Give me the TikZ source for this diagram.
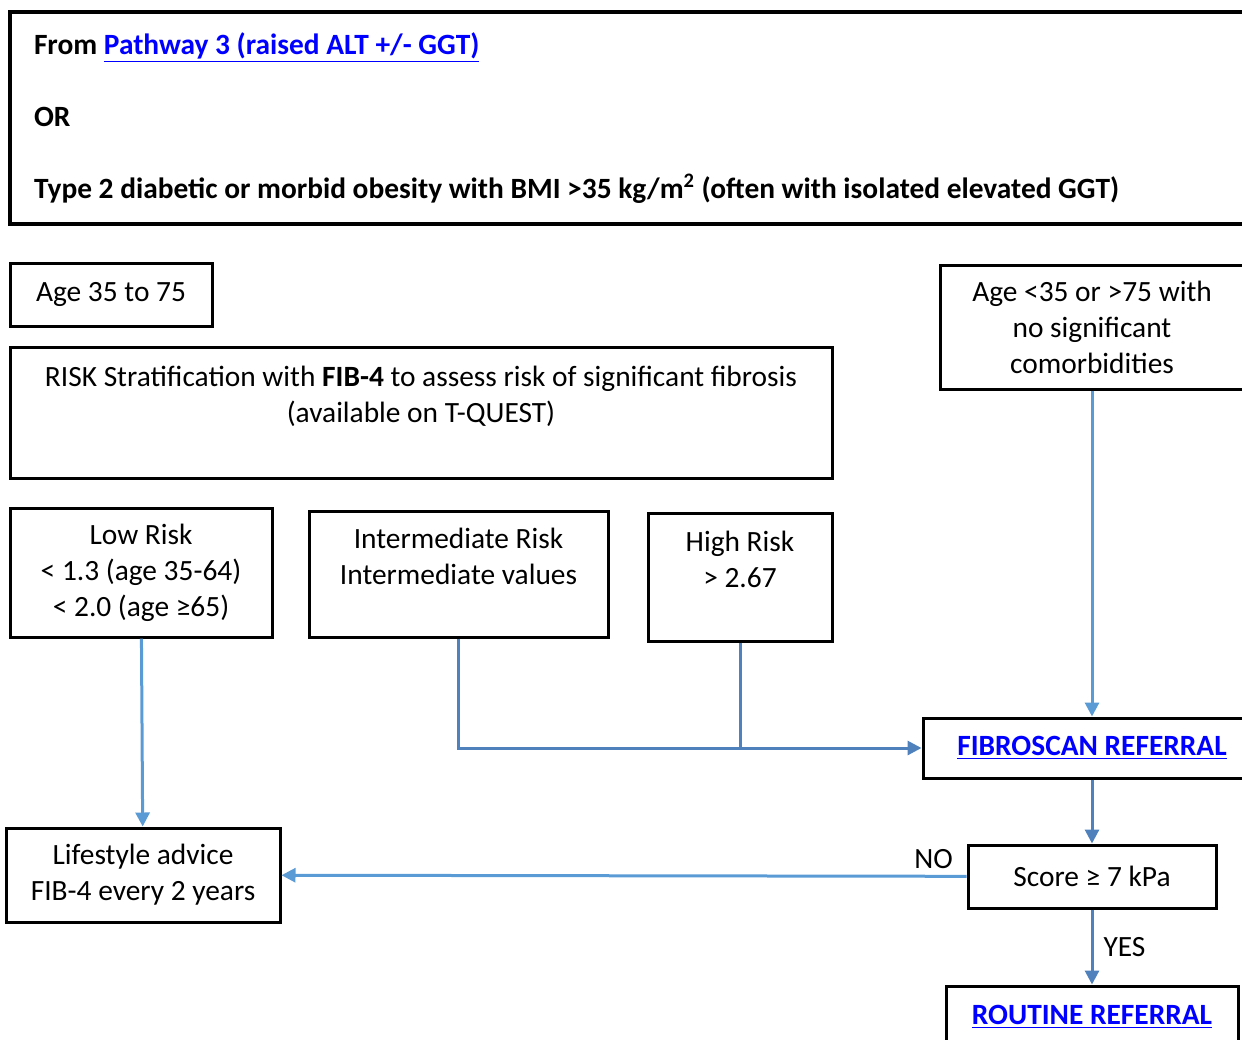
\documentclass[tikz,border=0pt]{standalone}
\usepackage{fontspec}
\setmainfont{Carlito}
\usetikzlibrary{arrows.meta}
\definecolor{linkblue}{RGB}{0,0,255}
\definecolor{flowlight}{RGB}{91,155,213}
\definecolor{flowdark}{RGB}{79,129,189}
\newcommand{\linktext}[1]{\textcolor{linkblue}{\underline{\textbf{#1}}}}
\newcommand{\tightwords}{\spaceskip=0.225em\relax}

\begin{document}
\begin{tikzpicture}[
  x=0.5pt, y=-0.5pt,
  font=\fontsize{14.7}{18}\selectfont,
  >={Triangle[length=7pt,width=7pt]},
  box/.style={draw=black, line width=1.5pt, align=center, inner sep=0pt},
  arrowlight/.style={->, draw=flowlight, line width=1.5pt},
  arrowdark/.style={->, draw=flowdark, line width=1.5pt},
  linedark/.style={draw=flowdark, line width=1.5pt}
]
\useasboundingbox (0,0) rectangle (1242,1039);

% Entry criteria.
\node[box, line width=1.8pt, align=left, text width=596pt, inner xsep=12pt,
  minimum height=106pt] (entry) at (630,118)
  {\tightwords\textbf{From} \linktext{Pathway 3 (raised ALT +/- GGT)}\\~\\
   \textbf{OR}\\~\\
   \textbf{Type 2 diabetic or morbid obesity with BMI >35 kg/m\textsuperscript{2} (often with isolated elevated GGT)}};

% Age groups.
\node[box, minimum width=101pt, minimum height=31.5pt] (age) at (111,294.5)
  {Age 35 to 75};
\node[box, minimum width=152pt, minimum height=62pt] (agex) at (1092,327)
  {Age <35 or >75 with\\no significant\\comorbidities};

% Risk stratification.
\node[box, minimum width=411pt, minimum height=65.5pt] (risk) at (421,412.5)
  {RISK Stratification with \textbf{FIB-4} to assess risk of significant fibrosis\\
   (available on T-QUEST)\\~};
\node[box, minimum width=131pt, minimum height=64.5pt] (low) at (141,572.5)
  {Low Risk\\< 1.3 (age 35-64)\\< 2.0 (age ≥65)};
\node[box, minimum width=149.5pt, minimum height=63pt] (inter) at (458.5,574)
  {Intermediate Risk\\Intermediate values\\~};
\node[box, minimum width=92pt, minimum height=64pt] (high) at (740,577)
  {High Risk\\> 2.67\\~};

% Outcomes.
\node[box, minimum width=169pt, minimum height=30pt] (fibro) at (1092,748)
  {\linktext{FIBROSCAN REFERRAL}};
\node[box, minimum width=137pt, minimum height=47pt] (life) at (143,875)
  {Lifestyle advice\\FIB-4 every 2 years};
\node[box, minimum width=124pt, minimum height=31.5pt] (score) at (1092,876.5)
  {Score ≥ 7 kPa};
\node[box, minimum width=146pt, minimum height=31pt] (routine) at (1092,1017)
  {\linktext{ROUTINE REFERRAL}};

% Connectors.
\draw[arrowlight] (agex) -- (fibro);
\draw[arrowlight] (low) -- (life);
\draw[arrowdark] (inter.south) |- (fibro.west);
\draw[linedark] (high.south) -- (high.south |- fibro.west);
\draw[arrowdark] (fibro) -- (score);
\draw[arrowlight] (score) -- node[pos=0.048, above, inner sep=3pt] {NO} (life);
\draw[arrowdark] (score) -- node[right, inner sep=5pt] {YES} (routine);

\end{tikzpicture}
\end{document}
